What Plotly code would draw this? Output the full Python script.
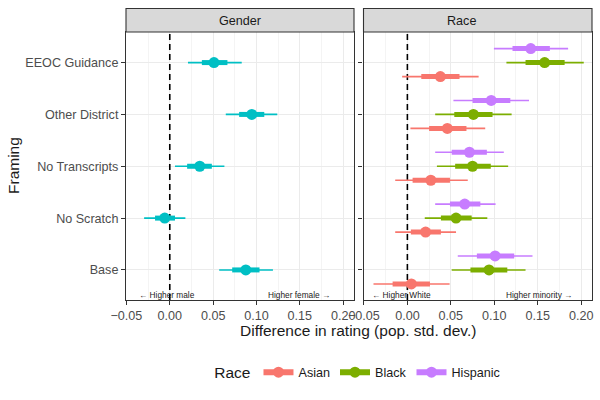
import plotly.graph_objects as go

# ---------------- data ----------------
framings = ["Base", "No Scratch", "No Transcripts", "Other District", "EEOC Guidance"]

# Gender panel (estimate, 66% interval, 95% interval)
gender_est = [0.0877, -0.0058, 0.0346, 0.0946, 0.051]
gender_lo66 = [0.072, -0.017, 0.020, 0.080, 0.037]
gender_hi66 = [0.1035, 0.006, 0.0485, 0.109, 0.0665]
gender_lo95 = [0.057, -0.0296, 0.006, 0.0646, 0.021]
gender_hi95 = [0.119, 0.018, 0.063, 0.124, 0.083]

# Race panel
races = ["Asian", "Black", "Hispanic"]
race_est = {
    "Asian":    [0.0046, 0.021, 0.027, 0.046, 0.038],
    "Black":    [0.094, 0.056, 0.075, 0.076, 0.158],
    "Hispanic": [0.101, 0.066, 0.0714, 0.0965, 0.142],
}
race_lo66 = {
    "Asian":    [-0.017, 0.004, 0.006, 0.025, 0.016],
    "Black":    [0.0726, 0.0386, 0.055, 0.054, 0.136],
    "Hispanic": [0.080, 0.049, 0.051, 0.075, 0.121],
}
race_hi66 = {
    "Asian":    [0.026, 0.0386, 0.049, 0.068, 0.060],
    "Black":    [0.115, 0.074, 0.096, 0.098, 0.181],
    "Hispanic": [0.123, 0.084, 0.0915, 0.1185, 0.164],
}
race_lo95 = {
    "Asian":    [-0.039, -0.014, -0.014, 0.0035, -0.006],
    "Black":    [0.051, 0.020, 0.034, 0.032, 0.114],
    "Hispanic": [0.058, 0.032, 0.032, 0.053, 0.0996],
}
race_hi95 = {
    "Asian":    [0.0486, 0.056, 0.0695, 0.0896, 0.082],
    "Black":    [0.136, 0.092, 0.116, 0.120, 0.203],
    "Hispanic": [0.144, 0.1015, 0.111, 0.140, 0.185],
}

tick_vals = [-0.05, 0.0, 0.05, 0.10, 0.15, 0.20]

# ---------------- styles ----------------
GENDER_COLOR = "#00BFC4"
RACE_COLORS = {"Asian": "#F8766D", "Black": "#7CAE00", "Hispanic": "#C77CFF"}
DODGE = {"Asian": -0.27, "Black": 0.0, "Hispanic": 0.27}
FONT = "Liberation Sans, Arial, sans-serif"
W, H = 600, 400


def px_x(p):
    return p / W


def px_y(p):
    return 1 - p / H


def segs(lo, hi, ys):
    xs, yy = [], []
    for a, b, y in zip(lo, hi, ys):
        xs += [a, b, None]
        yy += [y, y, None]
    return xs, yy


fig = go.Figure()

ypos = list(range(1, len(framings) + 1))


def add_interval(xa, ya, lo95, hi95, lo66, hi66, est, ys, color, name):
    x, y = segs(lo95, hi95, ys)
    fig.add_trace(go.Scatter(x=x, y=y, mode="lines", line=dict(color=color, width=1.6),
                             xaxis=xa, yaxis=ya, showlegend=False, hoverinfo="skip"))
    x, y = segs(lo66, hi66, ys)
    fig.add_trace(go.Scatter(x=x, y=y, mode="lines", line=dict(color=color, width=5),
                             xaxis=xa, yaxis=ya, showlegend=False, hoverinfo="skip"))
    fig.add_trace(go.Scatter(x=est, y=ys, mode="markers",
                             marker=dict(color=color, size=11, line=dict(width=0)),
                             xaxis=xa, yaxis=ya, showlegend=False, name=name))


xrange = [-0.0505, 0.2125]
yrange = [0.42, 5.59]

# zero lines first (under data)
for xa, ya in [("x", "y"), ("x2", "y2")]:
    fig.add_trace(go.Scatter(x=[0, 0], y=yrange, mode="lines",
                             line=dict(color="black", width=1.6, dash="6px,4px"),
                             xaxis=xa, yaxis=ya, showlegend=False, hoverinfo="skip"))

add_interval("x", "y", gender_lo95, gender_hi95, gender_lo66, gender_hi66,
             gender_est, ypos, GENDER_COLOR, "Gender")

for r in races:
    ys = [p + DODGE[r] for p in ypos]
    add_interval("x2", "y2", race_lo95[r], race_hi95[r], race_lo66[r], race_hi66[r],
                 race_est[r], ys, RACE_COLORS[r], r)

# legend entries
for r in races:
    fig.add_trace(go.Scatter(x=[None], y=[None], mode="lines+markers", name=r,
                             line=dict(color=RACE_COLORS[r], width=6),
                             marker=dict(color=RACE_COLORS[r], size=11),
                             xaxis="x2", yaxis="y2", showlegend=True))

ydom = [px_y(300), px_y(32)]

axis_common = dict(
    range=xrange, tickvals=tick_vals, tickformat=".2f",
    showgrid=True, gridcolor="#EBEBEB", gridwidth=1.1,
    minor=dict(dtick=0.025, tick0=0, showgrid=True, gridcolor="#F4F4F4", gridwidth=0.6, ticks=""),
    showline=True, linecolor="#333333", linewidth=1.1, mirror=True,
    ticks="outside", ticklen=4, tickcolor="#333333", tickwidth=1,
    tickfont=dict(family=FONT, size=12.6, color="#4D4D4D"),
    zeroline=False, fixedrange=True, automargin=False,
)
yaxis_common = dict(
    range=yrange, tickvals=ypos,
    showgrid=True, gridcolor="#EBEBEB", gridwidth=1.1,
    showline=True, linecolor="#333333", linewidth=1.1, mirror=True,
    ticks="outside", ticklen=4, tickcolor="#333333",
    tickfont=dict(family=FONT, size=12.6, color="#4D4D4D"),
    zeroline=False, fixedrange=True, automargin=False,
)
fig.update_layout(
    xaxis=dict(domain=[px_x(126), px_x(354)], anchor="y", **axis_common),
    xaxis2=dict(domain=[px_x(363.5), px_x(592)], anchor="y2", **axis_common),
    yaxis=dict(domain=ydom, anchor="x", ticktext=framings, **yaxis_common),
    yaxis2=dict(domain=ydom, anchor="x2", showticklabels=False, **yaxis_common),
    width=W, height=H, autosize=False,
    margin=dict(l=0, r=0, t=0, b=0, pad=0),
    paper_bgcolor="white", plot_bgcolor="white",
    font=dict(family=FONT, color="#1A1A1A"),
    legend=dict(orientation="h", x=0.598, xanchor="center", y=px_y(373), yanchor="middle",
                title=dict(text="Race", font=dict(size=15.5, family=FONT, color="#1A1A1A"), side="left"),
                font=dict(size=12.6, family=FONT, color="#1A1A1A"),
                itemwidth=30, bgcolor="rgba(0,0,0,0)"),
)

# strips
for (x0, x1, label) in [(126, 354, "Gender"), (363.5, 592, "Race")]:
    fig.add_shape(type="rect", xref="paper", yref="paper",
                  x0=px_x(x0), x1=px_x(x1), y0=px_y(32), y1=px_y(8.5),
                  fillcolor="#D9D9D9", line=dict(color="#333333", width=1.1), layer="above")
    fig.add_annotation(x=px_x((x0 + x1) / 2), y=px_y(20.5), xref="paper", yref="paper",
                       text=label, showarrow=False, yanchor="middle",
                       font=dict(family=FONT, size=12.6, color="#1A1A1A"))

# in-panel direction labels
ann_font = dict(family=FONT, size=8.3, color="#1A1A1A")
fig.add_annotation(x=-0.0375, y=0.52, xref="x", yref="y", text="← Higher male",
                   showarrow=False, xanchor="left", yanchor="middle", font=ann_font)
fig.add_annotation(x=0.187, y=0.52, xref="x", yref="y", text="Higher female →",
                   showarrow=False, xanchor="right", yanchor="middle", font=ann_font)
fig.add_annotation(x=-0.0425, y=0.52, xref="x2", yref="y2", text="← Higher White",
                   showarrow=False, xanchor="left", yanchor="middle", font=ann_font)
fig.add_annotation(x=0.192, y=0.52, xref="x2", yref="y2", text="Higher minority →",
                   showarrow=False, xanchor="right", yanchor="middle", font=ann_font)

# axis titles
fig.add_annotation(x=px_x(358), y=px_y(330), xref="paper", yref="paper",
                   text="Difference in rating (pop. std. dev.)", showarrow=False, yanchor="middle",
                   font=dict(family=FONT, size=15.5, color="#1A1A1A"))
fig.add_annotation(x=px_x(13), y=px_y(166), xref="paper", yref="paper",
                   text="Framing", showarrow=False, textangle=-90, xanchor="center", yanchor="middle",
                   font=dict(family=FONT, size=15.5, color="#1A1A1A"))

fig.write_html("out.html", config={"displayModeBar": False},
               post_script="document.body.style.margin='0';")
